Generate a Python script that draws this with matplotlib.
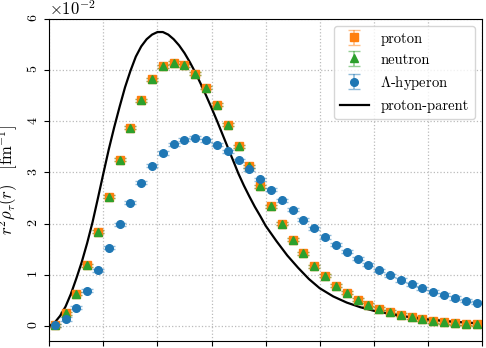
import numpy as np
import matplotlib
matplotlib.use('Agg')
import matplotlib.pyplot as plt

plt.rcParams['font.family'] = 'serif'
plt.rcParams['font.serif'] = ['cmr10']
plt.rcParams['mathtext.fontset'] = 'cm'
plt.rcParams['axes.unicode_minus'] = False
plt.rcParams['axes.formatter.use_mathtext'] = True

# radial grid of the sampled densities (fm)
r = np.arange(0.1, 8.0, 0.2)

# r^2 rho(r), in units of 1e-2 fm^-1
proton = [0.02, 0.25, 0.63, 1.19, 1.84, 2.53, 3.25, 3.87, 4.41, 4.82,
          5.07, 5.14, 5.09, 4.93, 4.65, 4.32, 3.93, 3.51, 3.12, 2.73,
          2.34, 2.00, 1.69, 1.42, 1.17, 0.98, 0.79, 0.65, 0.52, 0.42,
          0.34, 0.28, 0.22, 0.17, 0.13, 0.10, 0.08, 0.06, 0.045, 0.04]
neutron = [0.02, 0.25, 0.63, 1.19, 1.84, 2.53, 3.25, 3.87, 4.41, 4.82,
           5.07, 5.14, 5.09, 4.93, 4.65, 4.32, 3.93, 3.51, 3.12, 2.73,
           2.34, 2.00, 1.69, 1.42, 1.17, 0.98, 0.79, 0.65, 0.52, 0.42,
           0.34, 0.28, 0.22, 0.17, 0.13, 0.10, 0.08, 0.06, 0.045, 0.04]
hyperon = [0.02, 0.14, 0.36, 0.69, 1.09, 1.53, 1.99, 2.41, 2.80, 3.13,
           3.38, 3.55, 3.64, 3.68, 3.63, 3.54, 3.41, 3.24, 3.06, 2.87,
           2.66, 2.46, 2.27, 2.08, 1.91, 1.74, 1.59, 1.45, 1.32, 1.20,
           1.09, 0.99, 0.90, 0.82, 0.74, 0.67, 0.61, 0.55, 0.50, 0.46]
proton_err = 0.03
neutron_err = 0.03
hyperon_err = 0.03

# parent nucleus proton density
r_parent = [0.0, 0.1, 0.2, 0.3, 0.4, 0.5, 0.6, 0.7, 0.8, 0.9, 1.0,
            1.1, 1.2, 1.3, 1.4, 1.5, 1.6, 1.7, 1.8, 1.9, 2.0,
            2.1, 2.2, 2.3, 2.4, 2.5, 2.6, 2.7, 2.8, 2.9, 3.0,
            3.1, 3.2, 3.3, 3.4, 3.5, 3.6, 3.7, 3.8, 3.9, 4.0,
            4.2, 4.4, 4.6, 4.8, 5.0, 5.25, 5.5, 5.75, 6.0, 6.5, 7.0, 7.5, 8.0]
parent = [0.0, 0.07, 0.2, 0.38, 0.63, 0.93, 1.25, 1.62, 2.03, 2.50, 2.98,
          3.45, 3.88, 4.28, 4.66, 4.98, 5.26, 5.46, 5.60, 5.69, 5.74,
          5.74, 5.69, 5.60, 5.48, 5.33, 5.15, 4.95, 4.73, 4.50, 4.26,
          4.01, 3.75, 3.49, 3.23, 2.97, 2.74, 2.53, 2.33, 2.15, 1.96,
          1.66, 1.38, 1.14, 0.92, 0.74, 0.58, 0.46, 0.37, 0.30, 0.20, 0.13, 0.085, 0.05]

scale = 1e-2

fig = plt.figure(figsize=(4.86, 3.48), dpi=100)
ax = fig.add_axes([0.1014, 0.0201, 0.8903, 0.9261])

series = [(proton, proton_err, 's', 'tab:orange', 'proton'),
          (neutron, neutron_err, '^', 'tab:green', 'neutron'),
          (hyperon, hyperon_err, 'o', 'tab:blue', r'$\Lambda$-hyperon')]
for vals, err, m, c, lab in series:
    ax.errorbar(r, np.array(vals) * scale, yerr=err * scale, fmt=m, color=c,
                ms=5.5, capsize=4, ecolor=(matplotlib.colors.to_rgb(c) + (0.5,)),
                elinewidth=1.2, label=lab)

ax.plot(r_parent, np.array(parent) * scale, color='black', lw=1.6,
        label='proton-parent')

ax.set_xlim(0, 8)
ax.set_ylim(-0.0029, 0.06)
ax.ticklabel_format(axis='y', style='sci', scilimits=(0, 0), useMathText=True)
ax.tick_params(axis='y', labelrotation=90, labelsize=10)
ax.tick_params(axis='x', labelsize=10)
ax.yaxis.get_offset_text().set_fontsize(12)
ax.grid(True, ls=':', color='#bbbbbb', lw=0.9)
ax.set_ylabel(r'$r^2\rho_{\tau}(r)\quad[\mathrm{fm}^{-1}]$', fontsize=12)

# keep the plotting order in the legend (errorbars first, then the line)
handles, labels = ax.get_legend_handles_labels()
order = [labels.index(l) for l in ['proton', 'neutron', r'$\Lambda$-hyperon', 'proton-parent']]
ax.legend([handles[i] for i in order], [labels[i] for i in order],
          loc='upper right', fontsize=10.5)

fig.savefig('out.png', dpi=100)
